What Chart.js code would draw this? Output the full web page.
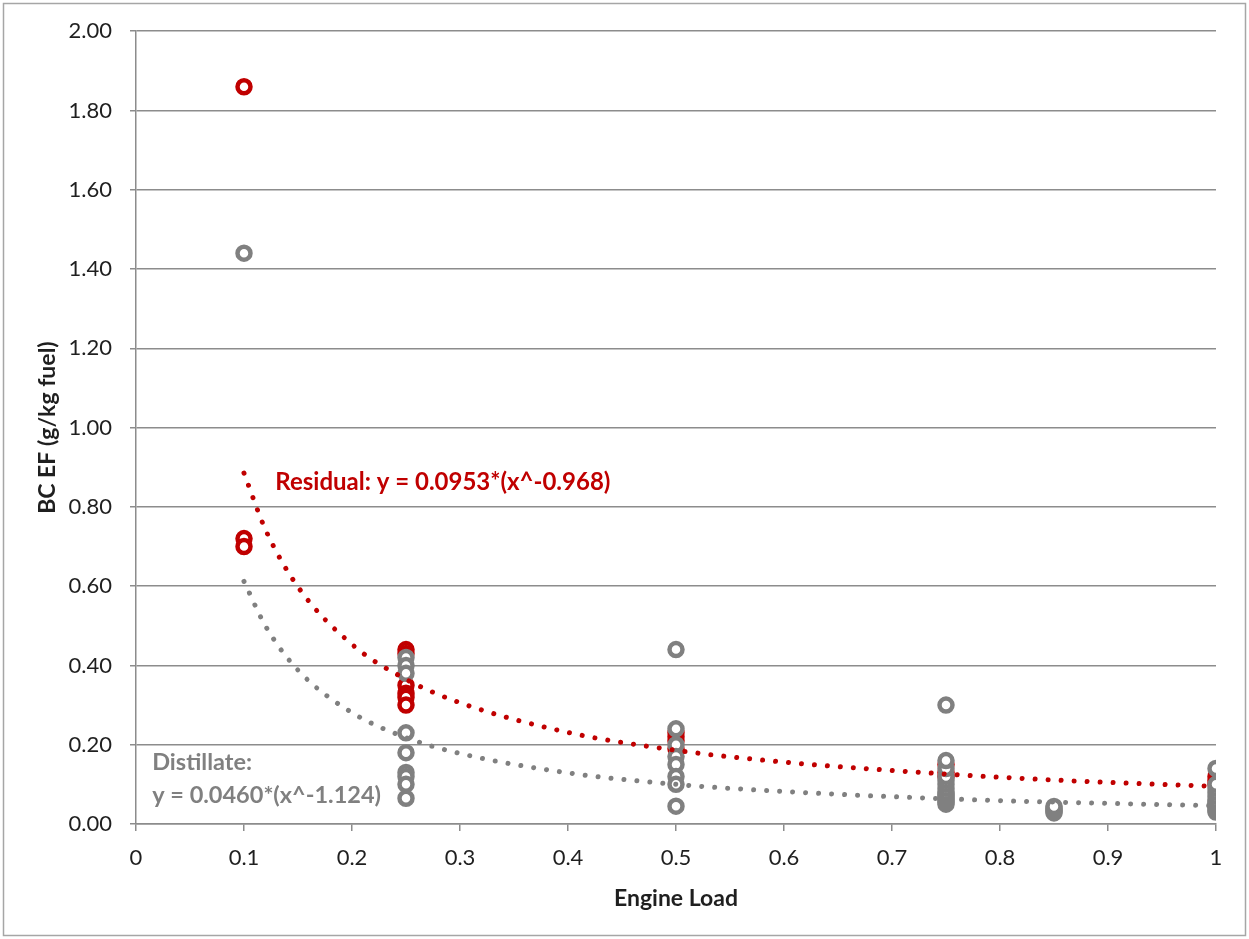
<!DOCTYPE html>
<html>
<head>
<meta charset="utf-8">
<script src="https://cdn.jsdelivr.net/npm/chart.js@4.4.1/dist/chart.umd.min.js"></script>
<style>
  html, body { margin: 0; padding: 0; background: #fff; }
  #wrap { width: 1249px; height: 939px; }
</style>
</head>
<body>
<div id="wrap"><canvas id="bc-chart" width="1249" height="939"></canvas></div>
<script>
// Residual fuel samples (red rings)
const residualLoad = [0.1, 0.1, 0.1, 0.25, 0.25, 0.25, 0.25, 0.25, 0.25, 0.5, 0.5, 0.5, 0.5, 0.75, 0.75, 0.75, 1, 1, 1];
const residualEF   = [1.86, 0.72, 0.70, 0.44, 0.43, 0.35, 0.33, 0.32, 0.30, 0.23, 0.22, 0.21, 0.19, 0.15, 0.13, 0.12, 0.12, 0.11, 0.10];

// Distillate fuel samples (grey rings)
const distillateLoad = [0.1,
  0.25, 0.25, 0.25, 0.25, 0.25, 0.25, 0.25, 0.25, 0.25,
  0.5, 0.5, 0.5, 0.5, 0.5, 0.5, 0.5, 0.5,
  0.75, 0.75, 0.75, 0.75, 0.75, 0.75, 0.75, 0.75, 0.75, 0.75, 0.75, 0.75, 0.75, 0.75,
  0.85, 0.85, 0.85, 0.85, 0.85,
  1, 1, 1, 1, 1, 1, 1, 1, 1, 1, 1, 1];
const distillateEF = [1.44,
  0.42, 0.40, 0.38, 0.23, 0.18, 0.13, 0.12, 0.10, 0.065,
  0.44, 0.24, 0.20, 0.17, 0.15, 0.12, 0.10, 0.045,
  0.30, 0.05, 0.055, 0.06, 0.065, 0.07, 0.075, 0.08, 0.09, 0.10, 0.11, 0.12, 0.14, 0.16,
  0.028, 0.032, 0.036, 0.04, 0.044,
  0.03, 0.035, 0.04, 0.045, 0.05, 0.055, 0.06, 0.07, 0.08, 0.09, 0.10, 0.14];

// Power trend lines
const trendLoad       = [0.1, 0.12, 0.15, 0.2, 0.25, 0.3, 0.4, 0.5, 0.6, 0.7, 0.8, 0.9, 1];
const residualTrend   = [0.885, 0.742, 0.598, 0.453, 0.365, 0.306, 0.231, 0.186, 0.156, 0.135, 0.118, 0.105, 0.095];
const distillateTrend = [0.612, 0.499, 0.388, 0.281, 0.218, 0.178, 0.129, 0.100, 0.082, 0.069, 0.059, 0.052, 0.046];

const xTickLabels = ['0', '0.1', '0.2', '0.3', '0.4', '0.5', '0.6', '0.7', '0.8', '0.9', '1'];
const yTickLabels = ['0.00', '0.20', '0.40', '0.60', '0.80', '1.00', '1.20', '1.40', '1.60', '1.80', '2.00'];

const RED = '#c00000';
const GREY = '#808080';
const GRID = '#8c8c8c';
const TEXT = '#1f1f1f';
const FONT = 'Lato, "Open Sans", sans-serif';

const toPoints = (xs, ys) => xs.map((x, i) => ({ x: x, y: ys[i] }));

// Equation labels, anchored in data units
const notes = [
  { text: 'Residual: y = 0.0953*(x^-0.968)', x: 0.129, y: 0.862, color: RED, size: 24 },
  { text: 'Distillate:', x: 0.015, y: 0.156, color: GREY, size: 23.5 },
  { text: 'y = 0.0460*(x^-1.124)', x: 0.015, y: 0.071, color: GREY, size: 23.5 }
];

const notesPlugin = {
  id: 'notes',
  afterDatasetsDraw(chart) {
    const ctx = chart.ctx;
    const sx = chart.scales.x, sy = chart.scales.y;
    ctx.save();
    ctx.textBaseline = 'middle';
    ctx.textAlign = 'left';
    notes.forEach(n => {
      ctx.font = 'bold ' + n.size + 'px ' + FONT;
      ctx.fillStyle = n.color;
      ctx.fillText(n.text, sx.getPixelForValue(n.x), sy.getPixelForValue(n.y));
    });
    ctx.restore();
  },
  afterDraw(chart) {
    // outer frame round the whole chart
    const ctx = chart.ctx;
    ctx.save();
    ctx.strokeStyle = '#a6a6a6';
    ctx.lineWidth = 1.5;
    ctx.strokeRect(3.5, 3.5, chart.width - 7, chart.height - 7);
    ctx.restore();
  }
};

const ctx = document.getElementById('bc-chart').getContext('2d');
new Chart(ctx, {
  type: 'scatter',
  data: {
    datasets: [
      {
        label: 'Residual trend',
        data: toPoints(trendLoad, residualTrend),
        showLine: true,
        cubicInterpolationMode: 'monotone',
        borderColor: RED,
        borderWidth: 5,
        borderDash: [0.01, 13],
        borderCapStyle: 'round',
        pointRadius: 0,
        order: 0
      },
      {
        label: 'Distillate trend',
        data: toPoints(trendLoad, distillateTrend),
        showLine: true,
        cubicInterpolationMode: 'monotone',
        borderColor: GREY,
        borderWidth: 5,
        borderDash: [0.01, 13],
        borderCapStyle: 'round',
        pointRadius: 0,
        order: 0
      },
      {
        label: 'Distillate',
        data: toPoints(distillateLoad, distillateEF),
        pointRadius: 6.5,
        pointBorderWidth: 4.5,
        pointBackgroundColor: '#ffffff',
        pointBorderColor: GREY,
        order: 1
      },
      {
        label: 'Residual',
        data: toPoints(residualLoad, residualEF),
        pointRadius: 6.5,
        pointBorderWidth: 4.5,
        pointBackgroundColor: '#ffffff',
        pointBorderColor: RED,
        order: 2
      }
    ]
  },
  options: {
    responsive: false,
    animation: false,
    events: [],
    layout: { padding: { left: 0, top: 27, right: 33, bottom: 0 } },
    plugins: {
      legend: { display: false },
      tooltip: { enabled: false }
    },
    scales: {
      x: {
        type: 'linear',
        min: 0,
        max: 1,
        afterFit: s => { s.height = 115; },
        ticks: {
          stepSize: 0.1,
          padding: 14,
          color: TEXT,
          font: { family: FONT, size: 22 },
          callback: (v, i) => xTickLabels[i]
        },
        grid: { drawOnChartArea: false, drawTicks: true, tickLength: 7, color: GRID, lineWidth: 1.5 },
        border: { color: GRID, width: 1.5 },
        title: {
          display: true,
          text: 'Engine Load',
          color: TEXT,
          font: { family: FONT, size: 23, weight: 'bold' },
          padding: { top: 0, bottom: 27 }
        }
      },
      y: {
        min: 0,
        max: 2,
        afterFit: s => { s.width = 136; },
        ticks: {
          stepSize: 0.2,
          padding: 18,
          color: TEXT,
          font: { family: FONT, size: 22 },
          callback: (v, i) => yTickLabels[i]
        },
        grid: { color: GRID, lineWidth: 1.5, tickLength: 6 },
        border: { color: GRID, width: 1.5 },
        title: {
          display: true,
          text: 'BC EF (g/kg fuel)',
          color: TEXT,
          font: { family: FONT, size: 23, weight: 'bold' },
          padding: { top: 34, bottom: 0 }
        }
      }
    }
  },
  plugins: [notesPlugin]
});
</script>
</body>
</html>
